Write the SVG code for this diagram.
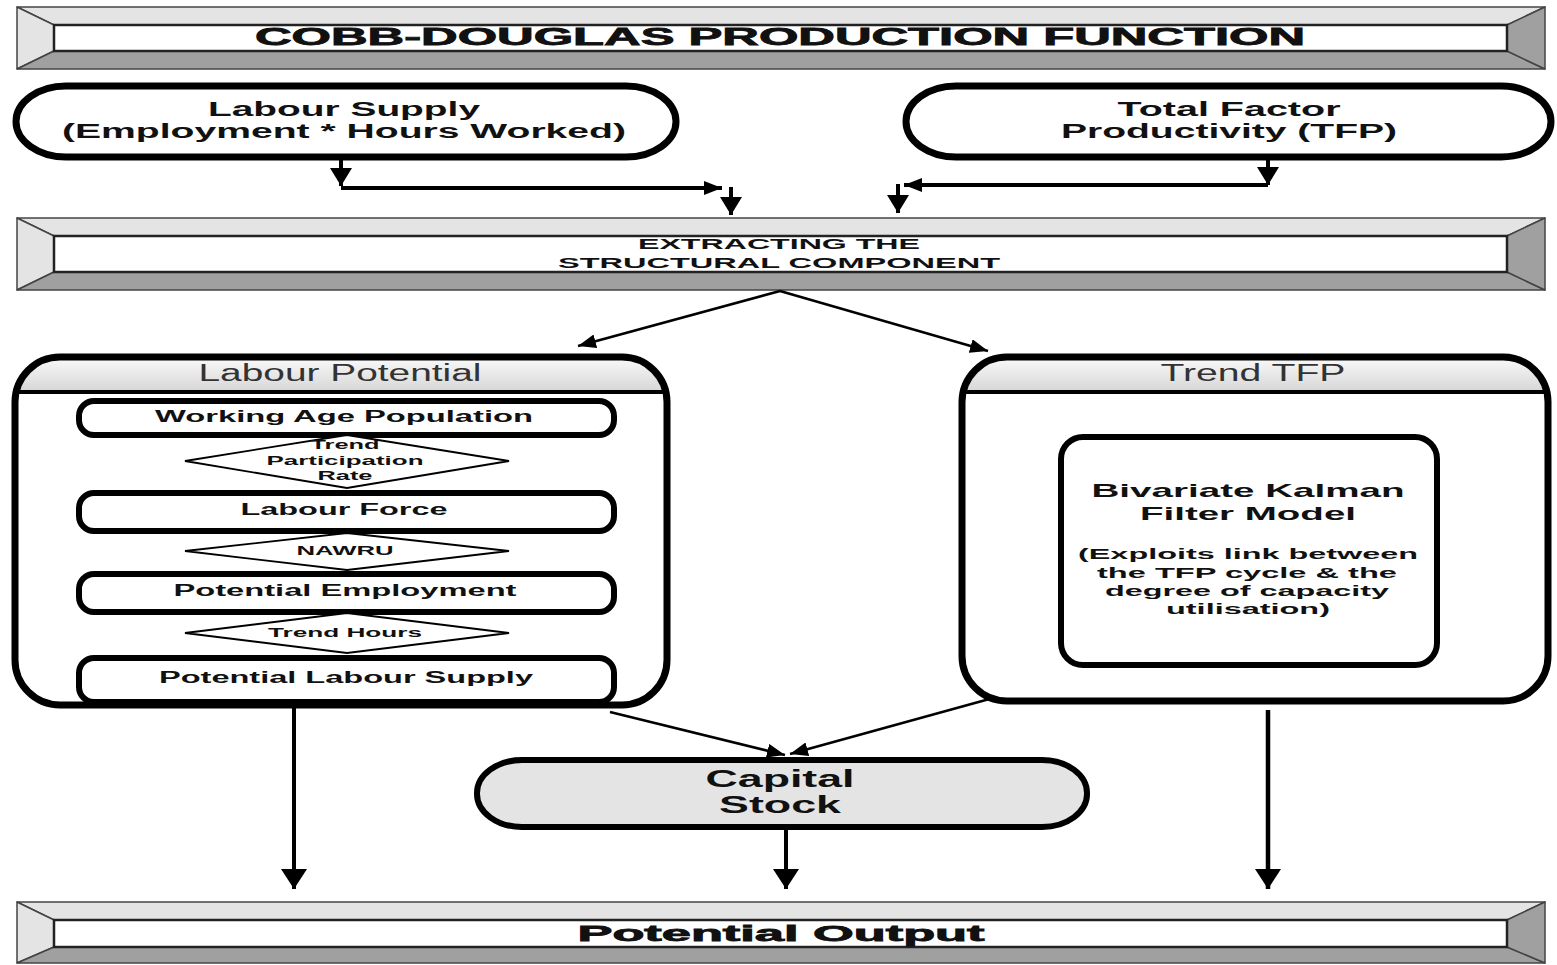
<svg xmlns="http://www.w3.org/2000/svg" width="1557" height="965" viewBox="0 0 1557 965">
<style>
.bl{fill:#e4e4e4;stroke:#444;stroke-width:1.5;stroke-linejoin:round}
.bd{fill:#a0a0a0;stroke:#444;stroke-width:1.5;stroke-linejoin:round}
.bi{fill:#fff;stroke:#222;stroke-width:2.5}
.t{font-family:"Liberation Sans",Arial,sans-serif;font-weight:bold;fill:#111;text-anchor:middle}
.h{stroke:#111;stroke-width:0.8}
.hdr{font-family:"Liberation Sans",Arial,sans-serif;font-weight:normal;fill:#333;text-anchor:middle;font-size:23px}
.pill{fill:#fff;stroke:#000;stroke-width:7}
.cap{fill:#e4e4e4;stroke:#000;stroke-width:6}
.box{fill:#fff;stroke:#000;stroke-width:6}
.dia{fill:#fff;stroke:#000;stroke-width:1.8}
.c{fill:none;stroke:#000}
</style>
<defs>
<linearGradient id="hg" x1="0" y1="0" x2="0" y2="1">
<stop offset="0" stop-color="#fafafa"/>
<stop offset="1" stop-color="#d6d6d6"/>
</linearGradient>
<clipPath id="clipL"><rect x="15" y="357" width="652" height="348" rx="45"/></clipPath>
<clipPath id="clipR"><rect x="962" y="357" width="586" height="344" rx="45"/></clipPath>
<marker id="ak" markerUnits="userSpaceOnUse" viewBox="0 0 18 22" refX="18" refY="11" markerWidth="18" markerHeight="22" orient="auto"><path d="M0,0 L18,11 L0,22 z" fill="#000"/></marker>
<marker id="at" markerUnits="userSpaceOnUse" viewBox="0 0 18 14" refX="18" refY="7" markerWidth="18" markerHeight="14" orient="auto"><path d="M0,0 L18,7 L0,14 z" fill="#000"/></marker>
<marker id="ab" markerUnits="userSpaceOnUse" viewBox="0 0 20 26" refX="20" refY="13" markerWidth="20" markerHeight="26" orient="auto"><path d="M0,0 L20,13 L0,26 z" fill="#000"/></marker>
</defs>

<g id="title">
<polygon class="bl" points="17,7 1545,7 1507,25 54,25"/>
<polygon class="bl" points="17,7 54,25 54,51 17,69"/>
<polygon class="bd" points="17,69 54,51 1507,51 1545,69"/>
<polygon class="bd" points="1545,7 1507,25 1507,51 1545,69"/>
<rect class="bi" x="54" y="25" width="1453" height="26"/>
<text class="t h" x="780" y="45" font-size="24" textLength="1050" lengthAdjust="spacingAndGlyphs">COBB-DOUGLAS PRODUCTION FUNCTION</text>
</g>

<g id="labour-supply">
<rect class="pill" x="16" y="86" width="660" height="71" rx="50" ry="36"/>
<text class="t" x="344" y="116" font-size="20" textLength="272" lengthAdjust="spacingAndGlyphs">Labour Supply</text>
<text class="t" x="344" y="138" font-size="20" textLength="564" lengthAdjust="spacingAndGlyphs">(Employment * Hours Worked)</text>
</g>

<g id="tfp">
<rect class="pill" x="906" y="86" width="645" height="71" rx="50" ry="36"/>
<text class="t" x="1229" y="116" font-size="20" textLength="223" lengthAdjust="spacingAndGlyphs">Total Factor</text>
<text class="t" x="1229" y="138" font-size="20" textLength="336" lengthAdjust="spacingAndGlyphs">Productivity (TFP)</text>
</g>

<g id="extracting">
<polygon class="bl" points="17,218 1545,218 1507,236 54,236"/>
<polygon class="bl" points="17,218 54,236 54,272 17,290"/>
<polygon class="bd" points="17,290 54,272 1507,272 1545,290"/>
<polygon class="bd" points="1545,218 1507,236 1507,272 1545,290"/>
<rect class="bi" x="54" y="236" width="1453" height="36"/>
<text class="t" x="779" y="249" font-size="14" textLength="282" lengthAdjust="spacingAndGlyphs">EXTRACTING THE</text>
<text class="t" x="779" y="268" font-size="14" textLength="442" lengthAdjust="spacingAndGlyphs">STRUCTURAL COMPONENT</text>
</g>

<g id="labour-potential">
<rect x="15" y="357" width="652" height="348" rx="45" fill="#fff"/>
<rect x="15" y="357" width="652" height="35" fill="url(#hg)" clip-path="url(#clipL)"/>
<line x1="15" y1="392" x2="667" y2="392" stroke="#000" stroke-width="4"/>
<rect x="15" y="357" width="652" height="348" rx="45" fill="none" stroke="#000" stroke-width="7"/>
<text class="hdr" x="340" y="381" textLength="283" lengthAdjust="spacingAndGlyphs">Labour Potential</text>
</g>

<g id="working-age">
<rect class="box" x="79" y="401" width="535" height="34" rx="15"/>
<text class="t" x="344" y="422" font-size="16" textLength="378" lengthAdjust="spacingAndGlyphs">Working Age Population</text>
</g>
<g id="participation">
<polygon class="dia" points="185,461 347,435 509,461 347,488"/>
<text class="t" x="345" y="449" font-size="13" textLength="69" lengthAdjust="spacingAndGlyphs">Trend</text>
<text class="t" x="345" y="465" font-size="13" textLength="157" lengthAdjust="spacingAndGlyphs">Participation</text>
<text class="t" x="345" y="480" font-size="13" textLength="55" lengthAdjust="spacingAndGlyphs">Rate</text>
</g>
<g id="labour-force">
<rect class="box" x="79" y="493" width="535" height="38" rx="15"/>
<text class="t" x="344" y="515" font-size="16" textLength="207" lengthAdjust="spacingAndGlyphs">Labour Force</text>
</g>
<g id="nawru">
<polygon class="dia" points="185,551 347,533 509,551 347,570"/>
<text class="t" x="345" y="555" font-size="13" textLength="97" lengthAdjust="spacingAndGlyphs">NAWRU</text>
</g>
<g id="potential-employment">
<rect class="box" x="79" y="574" width="535" height="38" rx="15"/>
<text class="t" x="345" y="596" font-size="16" textLength="343" lengthAdjust="spacingAndGlyphs">Potential Employment</text>
</g>
<g id="trend-hours">
<polygon class="dia" points="185,633 347,613 509,633 347,653"/>
<text class="t" x="345" y="637" font-size="13" textLength="154" lengthAdjust="spacingAndGlyphs">Trend Hours</text>
</g>
<g id="potential-labour-supply">
<rect class="box" x="79" y="658" width="535" height="44" rx="15"/>
<text class="t" x="346" y="683" font-size="16" textLength="374" lengthAdjust="spacingAndGlyphs">Potential Labour Supply</text>
</g>

<g id="trend-tfp">
<rect x="962" y="357" width="586" height="344" rx="45" fill="#fff"/>
<rect x="962" y="357" width="586" height="35" fill="url(#hg)" clip-path="url(#clipR)"/>
<line x1="962" y1="392" x2="1548" y2="392" stroke="#000" stroke-width="4"/>
<rect x="962" y="357" width="586" height="344" rx="45" fill="none" stroke="#000" stroke-width="7"/>
<text class="hdr" x="1253" y="381" textLength="185" lengthAdjust="spacingAndGlyphs">Trend TFP</text>
</g>

<g id="kalman">
<rect class="box" x="1061" y="437" width="376" height="228" rx="22" stroke-width="7"/>
<text class="t" x="1248" y="497" font-size="19" textLength="313" lengthAdjust="spacingAndGlyphs">Bivariate Kalman</text>
<text class="t" x="1248" y="520" font-size="19" textLength="216" lengthAdjust="spacingAndGlyphs">Filter Model</text>
<text class="t" x="1248" y="559" font-size="14.5" textLength="340" lengthAdjust="spacingAndGlyphs">(Exploits link between</text>
<text class="t" x="1247" y="578" font-size="14.5" textLength="300" lengthAdjust="spacingAndGlyphs">the TFP cycle &amp; the</text>
<text class="t" x="1247" y="596" font-size="14.5" textLength="284" lengthAdjust="spacingAndGlyphs">degree of capacity</text>
<text class="t" x="1248" y="614" font-size="14.5" textLength="164" lengthAdjust="spacingAndGlyphs">utilisation)</text>
</g>

<g id="capital-stock">
<rect class="cap" x="477" y="760" width="610" height="67" rx="45" ry="33"/>
<text class="t" x="780" y="787" font-size="23" textLength="149" lengthAdjust="spacingAndGlyphs">Capital</text>
<text class="t" x="780" y="813" font-size="23" textLength="122" lengthAdjust="spacingAndGlyphs">Stock</text>
</g>

<g id="potential-output">
<polygon class="bl" points="17,902 1545,902 1507,920 54,920"/>
<polygon class="bl" points="17,902 54,920 54,947 17,963"/>
<polygon class="bd" points="17,963 54,947 1507,947 1545,963"/>
<polygon class="bd" points="1545,902 1507,920 1507,947 1545,963"/>
<rect class="bi" x="54" y="920" width="1453" height="27"/>
<text class="t h" x="781" y="941" font-size="22" textLength="407" lengthAdjust="spacingAndGlyphs">Potential Output</text>
</g>

<g id="connectors">
<path class="c" stroke-width="4" d="M341,157 V186" marker-end="url(#ak)"/>
<path class="c" stroke-width="4" d="M341,188 H722" marker-end="url(#at)"/>
<path class="c" stroke-width="4" d="M731,187 V215" marker-end="url(#ak)"/>
<path class="c" stroke-width="4" d="M1268,157 V185" marker-end="url(#ak)"/>
<path class="c" stroke-width="4" d="M1268,185 H904" marker-end="url(#at)"/>
<path class="c" stroke-width="4" d="M898,184 V213" marker-end="url(#ak)"/>
<path class="c" stroke-width="2.5" d="M780,291 L578,346" marker-end="url(#at)"/>
<path class="c" stroke-width="2.5" d="M780,291 L988,351" marker-end="url(#at)"/>
<path class="c" stroke-width="2.5" d="M610,712 L785,755" marker-end="url(#at)"/>
<path class="c" stroke-width="2.5" d="M993,698 L790,754" marker-end="url(#at)"/>
<path class="c" stroke-width="4" d="M294,708 V889" marker-end="url(#ab)"/>
<path class="c" stroke-width="4" d="M786,828 V889" marker-end="url(#ab)"/>
<path class="c" stroke-width="4.5" d="M1268,710 V889" marker-end="url(#ab)"/>
</g>
</svg>
